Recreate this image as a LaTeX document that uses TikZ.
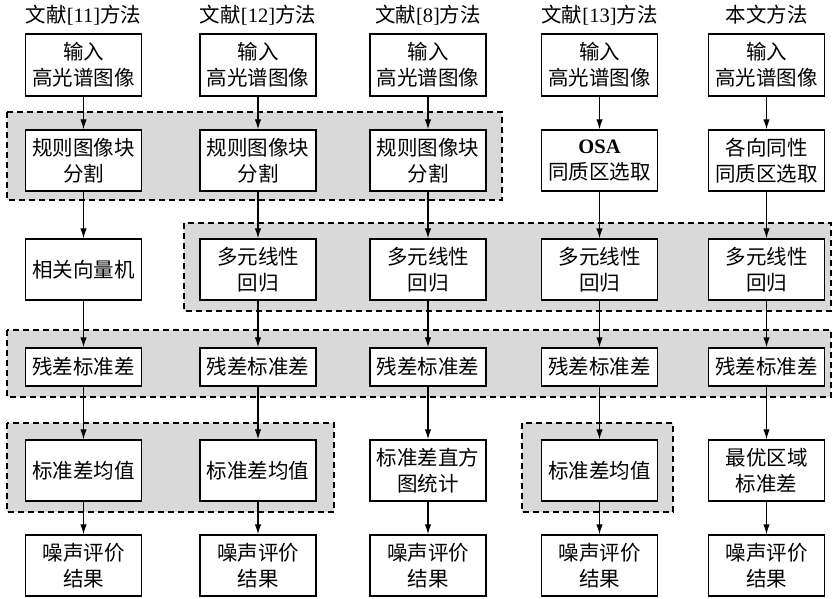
\documentclass[tikz,border=0pt]{standalone}
\usepackage{fontspec}
\setmainfont{Liberation Serif}
\newfontfamily\cjk{Noto Sans CJK SC}
\usetikzlibrary{arrows.meta}
\definecolor{bggray}{RGB}{217,217,217}
\begin{document}
\begin{tikzpicture}[x=1pt,y=-1pt,
  box/.style={draw=black, line width=1.4pt, fill=white, minimum width=116pt, minimum height=61pt, inner sep=0pt, align=center, font=\cjk\fontsize{20.5}{26}\selectfont},
  flat/.style={box, minimum height=38pt},
  grp/.style={draw=black, dash pattern=on 6pt off 4pt, line width=1.1pt, fill=bggray},
  ttl/.style={font=\cjk\fontsize{20.5}{24}\selectfont, inner sep=0pt},
  arr/.style={-{Latex[length=10pt,width=6.5pt]}, line width=1.2pt}]
\useasboundingbox (0,0) rectangle (833,599);
\fill[white] (0,0) rectangle (833,599);
% group backgrounds
\draw[grp] (7,112) rectangle (502,200);
\draw[grp] (184,223) rectangle (831,311);
\draw[grp] (7,330) rectangle (831,397);
\draw[grp] (7,423) rectangle (334,512);
\draw[grp] (522,423) rectangle (673,512);
% titles
\node[ttl] (t1) at (83.5,15) {文献{\rmfamily[11]}方法};
\node[ttl] (t2) at (258,15) {文献{\rmfamily[12]}方法};
\node[ttl] (t3) at (428,15) {文献{\rmfamily[8]}方法};
\node[ttl] (t4) at (599.5,15) {文献{\rmfamily[13]}方法};
\node[ttl] (t5) at (766.5,15) {本文方法};
% row 1
\node[box, minimum height=62pt] (a1) at (83.5,65) {输入\\高光谱图像};
\node[box, minimum height=62pt] (a2) at (258,65) {输入\\高光谱图像};
\node[box, minimum height=62pt] (a3) at (428,65) {输入\\高光谱图像};
\node[box, minimum height=62pt] (a4) at (599.5,65) {输入\\高光谱图像};
\node[box, minimum height=62pt] (a5) at (766.5,65) {输入\\高光谱图像};
% row 2
\node[box] (b1) at (83.5,160.5) {规则图像块\\分割};
\node[box] (b2) at (258,160.5) {规则图像块\\分割};
\node[box] (b3) at (428,160.5) {规则图像块\\分割};
\node[box] (b4) at (599.5,160.5) {{\rmfamily\bfseries OSA}\\同质区选取};
\node[box] (b5) at (766.5,160.5) {各向同性\\同质区选取};
% row 3
\node[box] (c1) at (83.5,269.5) {相关向量机};
\node[box] (c2) at (258,269.5) {多元线性\\回归};
\node[box] (c3) at (428,269.5) {多元线性\\回归};
\node[box] (c4) at (599.5,269.5) {多元线性\\回归};
\node[box] (c5) at (766.5,269.5) {多元线性\\回归};
% row 4
\node[flat] (d1) at (83.5,367) {残差标准差};
\node[flat] (d2) at (258,367) {残差标准差};
\node[flat] (d3) at (428,367) {残差标准差};
\node[flat] (d4) at (599.5,367) {残差标准差};
\node[flat] (d5) at (766.5,367) {残差标准差};
% row 5
\node[box] (e1) at (83.5,470.5) {标准差均值};
\node[box] (e2) at (258,470.5) {标准差均值};
\node[box] (e3) at (428,470.5) {标准差直方\\图统计};
\node[box] (e4) at (599.5,470.5) {标准差均值};
\node[box] (e5) at (766.5,470.5) {最优区域\\标准差};
% row 6
\node[box] (f1) at (83.5,565.5) {噪声评价\\结果};
\node[box] (f2) at (258,565.5) {噪声评价\\结果};
\node[box] (f3) at (428,565.5) {噪声评价\\结果};
\node[box] (f4) at (599.5,565.5) {噪声评价\\结果};
\node[box] (f5) at (766.5,565.5) {噪声评价\\结果};
% arrows
\foreach \i in {1,...,5}{
  \draw[arr] (a\i) -- (b\i);
  \draw[arr] (b\i) -- (c\i);
  \draw[arr] (c\i) -- (d\i);
  \draw[arr] (d\i) -- (e\i);
  \draw[arr] (e\i) -- (f\i);
}
\end{tikzpicture}
\end{document}
